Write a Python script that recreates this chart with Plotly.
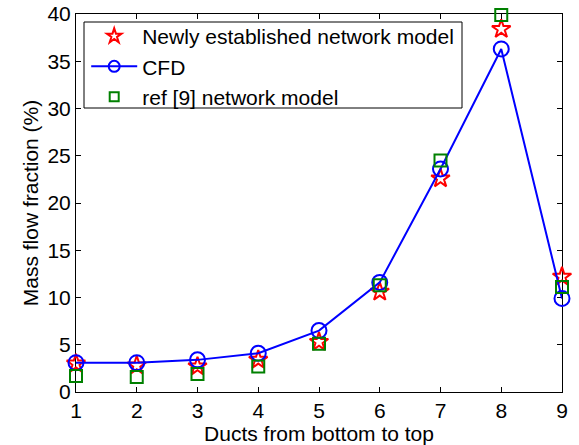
import plotly.graph_objects as go

ducts = [1, 2, 3, 4, 5, 6, 7, 8, 9]
newly = [3.0, 2.8, 2.7, 3.4, 5.3, 10.6, 22.6, 38.4, 12.2]
cfd = [3.1, 3.1, 3.4, 4.1, 6.5, 11.6, 23.6, 36.3, 9.9]
ref9 = [1.7, 1.6, 1.9, 2.7, 5.1, 11.3, 24.5, 39.9, 11.1]
yticks = [0, 5, 10, 15, 20, 25, 30, 35, 40]
names = ["Newly established network model", "CFD", "ref [9] network model"]

FS = 21

fig = go.Figure()
# data traces
fig.add_trace(go.Scatter(x=ducts, y=newly, mode="markers", name=names[0], showlegend=False, cliponaxis=False,
                         marker=dict(symbol="star-open", size=14, color="red", line=dict(width=2, color="red"))))
fig.add_trace(go.Scatter(x=ducts, y=cfd, mode="lines+markers", name=names[1], showlegend=False, cliponaxis=False,
                         line=dict(color="blue", width=2),
                         marker=dict(symbol="circle-open", size=15, color="blue", line=dict(width=2, color="blue"))))
fig.add_trace(go.Scatter(x=ducts, y=ref9, mode="markers", name=names[2], showlegend=False, cliponaxis=False,
                         marker=dict(symbol="square-open", size=12, color="green", line=dict(width=2, color="green"))))
# legend entries (smaller symbols, as in the reference legend)
fig.add_trace(go.Scatter(x=[None], y=[None], mode="markers", name=names[0],
                         marker=dict(symbol="star-open", size=11, color="red", line=dict(width=2, color="red"))))
fig.add_trace(go.Scatter(x=[None], y=[None], mode="lines+markers", name=names[1],
                         line=dict(color="blue", width=2),
                         marker=dict(symbol="circle-open", size=11, color="blue", line=dict(width=2, color="blue"))))
fig.add_trace(go.Scatter(x=[None], y=[None], mode="markers", name=names[2],
                         marker=dict(symbol="square-open", size=9, color="green", line=dict(width=2, color="green"))))

axis_common = dict(showline=True, linecolor="black", linewidth=1, mirror="allticks",
                   ticks="inside", ticklen=5, tickcolor="black", showgrid=False, zeroline=False,
                   tickfont=dict(size=FS, color="black"), automargin=False, layer="below traces")
fig.update_xaxes(range=[1, 9], tickvals=ducts,
                 title=dict(text="Ducts from bottom to top", font=dict(size=FS, color="black"), standoff=0),
                 **axis_common)
fig.update_yaxes(range=[0, 40], tickvals=yticks,
                 title=dict(text="Mass flow fraction (%)", font=dict(size=FS, color="black"), standoff=3),
                 **axis_common)

# legend frame
fig.add_shape(type="rect", xref="paper", yref="paper",
              x0=(84 - 76) / 486, x1=(462 - 76) / 486,
              y0=(392 - 108) / 378, y1=(392 - 22) / 378,
              line=dict(color="black", width=1), fillcolor="white", layer="below")

fig.update_layout(
    width=579, height=445,
    margin=dict(l=76, r=17, t=14, b=53),
    paper_bgcolor="white", plot_bgcolor="white",
    font=dict(family="Liberation Sans, Arial, sans-serif", size=FS, color="black"),
    legend=dict(x=0.021, y=0.995, xanchor="left", yanchor="top",
                borderwidth=0, bgcolor="rgba(0,0,0,0)",
                font=dict(size=FS), tracegroupgap=0, itemwidth=46),
    showlegend=True,
)
fig.write_html("out.html", config={"displayModeBar": False},
               post_script="document.body.style.margin='0';document.body.style.overflow='hidden';")
